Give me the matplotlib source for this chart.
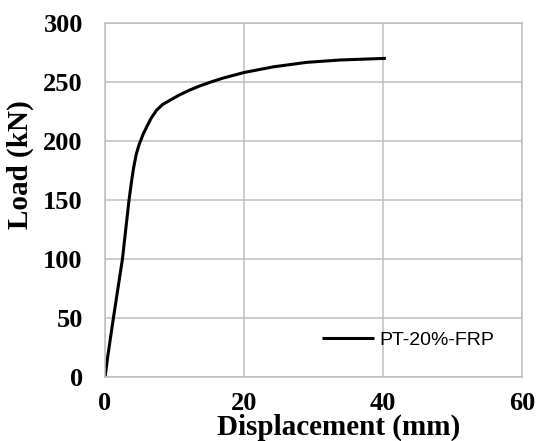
import matplotlib
matplotlib.use("Agg")
import matplotlib.pyplot as plt

# load-displacement curve
disp = [0, 0.4, 1.2, 2.5, 3.45, 3.84, 4.1, 4.5, 4.9, 5.5, 6.0, 6.6, 7.4, 8.3, 9.35, 10.7,
        12.2, 13.7, 15.5, 17.0, 20.0, 24.2, 29.0, 33.8, 40.4]
load = [0, 18, 50, 100, 150, 167, 177, 189, 197, 206, 212, 219, 226, 231, 234.5, 239,
        243.2, 246.8, 250.5, 253.3, 258, 262.8, 266.6, 268.6, 270]
series_name = "PT-20%-FRP"

x_ticks = [0, 20, 40, 60]
y_ticks = [0, 50, 100, 150, 200, 250, 300]

grid_col = "#BFBFBF"

fig = plt.figure(figsize=(5.36, 4.41), dpi=100)
ax = fig.add_axes([0.196, 0.145, 0.778, 0.803])

ax.plot(disp, load, color="black", lw=2.2, label=series_name,
        solid_capstyle="butt", solid_joinstyle="round")

ax.set_xlim(0, 60)
ax.set_ylim(0, 300)
ax.set_xticks(x_ticks)
ax.set_yticks(y_ticks)
ax.grid(True, color=grid_col, lw=1.1)
ax.set_axisbelow(True)
for s in ax.spines.values():
    s.set_color(grid_col)
    s.set_linewidth(1.1)

ax.tick_params(length=0)
ax.tick_params(axis="x", pad=11)
ax.tick_params(axis="y", pad=16)
for lab in ax.get_xticklabels() + ax.get_yticklabels():
    lab.set_family("Liberation Serif")
    lab.set_fontweight("bold")
    lab.set_fontsize(19)

ax.set_xlabel("Displacement (mm)", family="Liberation Serif", fontweight="bold", fontsize=21)
ax.set_ylabel("Load (kN)", family="Liberation Serif", fontweight="bold", fontsize=21)
ax.xaxis.set_label_coords(0.559, -0.103)
ax.yaxis.set_label_coords(-0.17, 0.60)

ax.legend(loc="center left", bbox_to_anchor=(0.52, 0.105), frameon=False,
          borderpad=0, borderaxespad=0, handlelength=2.7, handletextpad=0.25,
          prop={"family": "Liberation Sans", "size": 14})

fig.savefig("out.png", dpi=100)
